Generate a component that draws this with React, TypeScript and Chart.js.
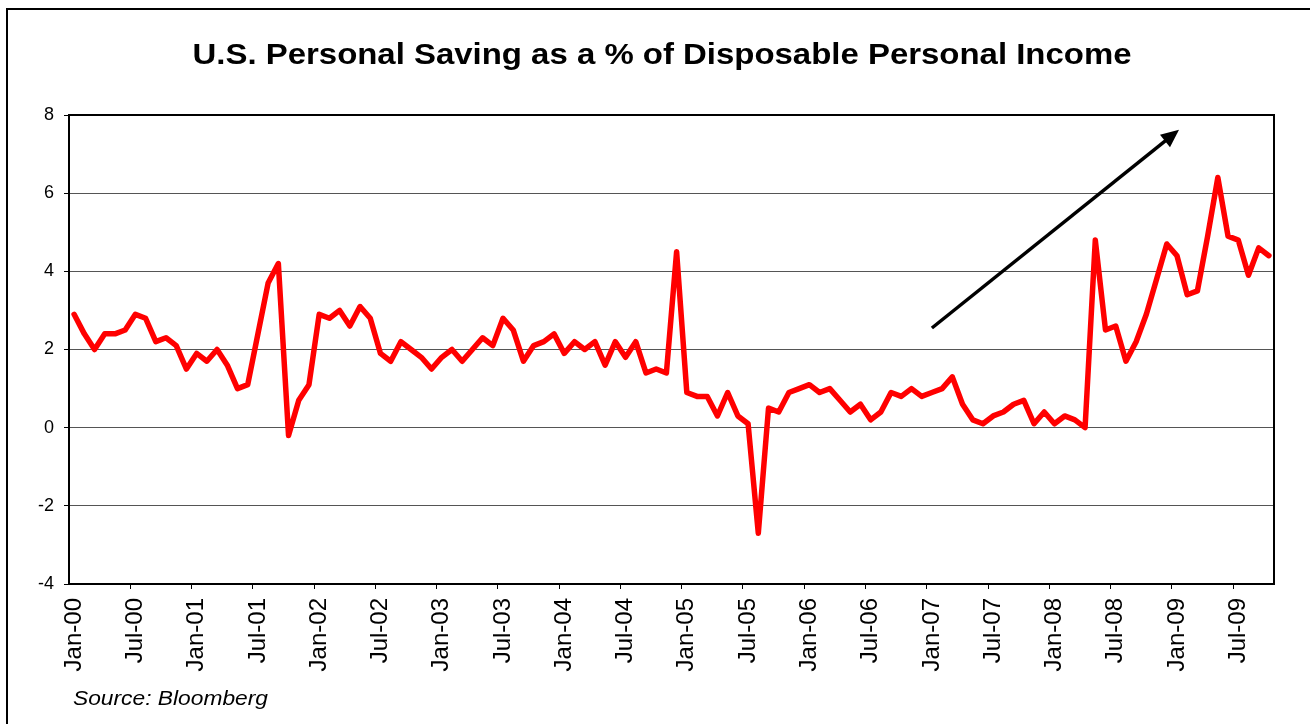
import React, { useEffect, useRef } from 'react';
import { Chart, registerables } from 'chart.js';

Chart.register(...registerables);

const TITLE = 'U.S. Personal Saving as a % of Disposable Personal Income';
const SOURCE = 'Source: Bloomberg';

const MONTH_NAMES = ['Jan', 'Feb', 'Mar', 'Apr', 'May', 'Jun', 'Jul', 'Aug', 'Sep', 'Oct', 'Nov', 'Dec'];
const YEARS = ['00', '01', '02', '03', '04', '05', '06', '07', '08', '09'];

// Monthly personal saving rate (%), Jan-00 .. Oct-09
const RATE_2000 = [2.9, 2.4, 2.0, 2.4, 2.4, 2.5, 2.9, 2.8, 2.2, 2.3, 2.1, 1.5];
const RATE_2001 = [1.9, 1.7, 2.0, 1.6, 1.0, 1.1, 2.4, 3.7, 4.2, -0.2, 0.7, 1.1];
const RATE_2002 = [2.9, 2.8, 3.0, 2.6, 3.1, 2.8, 1.9, 1.7, 2.2, 2.0, 1.8, 1.5];
const RATE_2003 = [1.8, 2.0, 1.7, 2.0, 2.3, 2.1, 2.8, 2.5, 1.7, 2.1, 2.2, 2.4];
const RATE_2004 = [1.9, 2.2, 2.0, 2.2, 1.6, 2.2, 1.8, 2.2, 1.4, 1.5, 1.4, 4.5];
const RATE_2005 = [0.9, 0.8, 0.8, 0.3, 0.9, 0.3, 0.1, -2.7, 0.5, 0.4, 0.9, 1.0];
const RATE_2006 = [1.1, 0.9, 1.0, 0.7, 0.4, 0.6, 0.2, 0.4, 0.9, 0.8, 1.0, 0.8];
const RATE_2007 = [0.9, 1.0, 1.3, 0.6, 0.2, 0.1, 0.3, 0.4, 0.6, 0.7, 0.1, 0.4];
const RATE_2008 = [0.1, 0.3, 0.2, 0.0, 4.8, 2.5, 2.6, 1.7, 2.2, 2.9, 3.8, 4.7];
const RATE_2009 = [4.4, 3.4, 3.5, 4.9, 6.4, 4.9, 4.8, 3.9, 4.6, 4.4];

const SAVING_RATE = [
  ...RATE_2000, ...RATE_2001, ...RATE_2002, ...RATE_2003, ...RATE_2004,
  ...RATE_2005, ...RATE_2006, ...RATE_2007, ...RATE_2008, ...RATE_2009,
];

const CATEGORIES: string[] = [];
YEARS.forEach((yy) => MONTH_NAMES.forEach((m) => CATEGORIES.push(`${m}-${yy}`)));
const LABELS = CATEGORIES.slice(0, SAVING_RATE.length);

const LABEL_EVERY = 6;
const Y_MIN = -4;
const Y_MAX = 8;
const Y_STEP = 2;

// Trend arrow annotation in data coordinates: [month index, value]
const ARROW_FROM = [84.0, 2.55];
const ARROW_TO = [108.2, 7.62];

const FONT = '"Liberation Sans", Arial, Helvetica, sans-serif';

const decorPlugin = {
  id: 'decor',
  afterDraw(chart: any) {
    const { ctx, chartArea: a, scales } = chart;
    const xs = scales.x;
    const ys = scales.y;
    ctx.save();
    ctx.strokeStyle = '#000';
    ctx.lineWidth = 2;
    // plot frame (top & right)
    ctx.beginPath();
    ctx.moveTo(a.left, a.top);
    ctx.lineTo(a.right, a.top);
    ctx.lineTo(a.right, a.bottom);
    ctx.stroke();
    // outer chart border
    ctx.strokeRect(7, 9, 1400, 800);

    // arrow
    const x1 = xs.getPixelForValue(ARROW_FROM[0]);
    const y1 = ys.getPixelForValue(ARROW_FROM[1]);
    const x2 = xs.getPixelForValue(ARROW_TO[0]);
    const y2 = ys.getPixelForValue(ARROW_TO[1]);
    const ang = Math.atan2(y2 - y1, x2 - x1);
    const headLen = 18;
    const headHalf = 8;
    ctx.lineWidth = 3.5;
    ctx.beginPath();
    ctx.moveTo(x1, y1);
    ctx.lineTo(x2 - Math.cos(ang) * headLen * 0.8, y2 - Math.sin(ang) * headLen * 0.8);
    ctx.stroke();
    ctx.fillStyle = '#000';
    ctx.beginPath();
    ctx.moveTo(x2, y2);
    const bx = x2 - Math.cos(ang) * headLen;
    const by = y2 - Math.sin(ang) * headLen;
    ctx.lineTo(bx + Math.sin(ang) * headHalf, by - Math.cos(ang) * headHalf);
    ctx.lineTo(bx - Math.sin(ang) * headHalf, by + Math.cos(ang) * headHalf);
    ctx.closePath();
    ctx.fill();

    // title
    ctx.fillStyle = '#000';
    ctx.font = `bold 29px ${FONT}`;
    ctx.textAlign = 'center';
    ctx.textBaseline = 'alphabetic';
    const tw = ctx.measureText(TITLE).width;
    ctx.save();
    ctx.translate(662, 64);
    ctx.scale(939 / tw, 1);
    ctx.fillText(TITLE, 0, 0);
    ctx.restore();

    // source
    ctx.font = `italic 20px ${FONT}`;
    ctx.textAlign = 'left';
    const sw = ctx.measureText(SOURCE).width;
    ctx.save();
    ctx.translate(73, 705);
    ctx.scale(195 / sw, 1);
    ctx.fillText(SOURCE, 0, 0);
    ctx.restore();

    ctx.restore();
  },
};

export default function App() {
  const canvasRef = useRef<HTMLCanvasElement | null>(null);

  useEffect(() => {
    document.body.style.margin = '0';
    document.body.style.background = '#fff';
    const canvas = canvasRef.current;
    if (!canvas) return;
    const chart = new Chart(canvas, {
      type: 'line',
      data: {
        labels: LABELS,
        datasets: [
          {
            label: 'Personal saving rate',
            data: SAVING_RATE,
            borderColor: '#ff0000',
            backgroundColor: '#ff0000',
            borderWidth: 5.5,
            pointRadius: 0,
            pointHoverRadius: 0,
            tension: 0,
            borderJoinStyle: 'round',
            borderCapStyle: 'round',
            fill: false,
          },
        ],
      },
      options: {
        animation: false,
        responsive: false,
        maintainAspectRatio: false,
        events: [],
        layout: { padding: { left: 20, right: 36, top: 115, bottom: 0 } },
        plugins: {
          legend: { display: false },
          title: { display: false },
          tooltip: { enabled: false },
        },
        scales: {
          x: {
            type: 'category',
            offset: true,
            afterFit: (scale: any) => {
              scale.height = 140;
            },
            border: { display: true, color: '#000', width: 2 },
            grid: {
              offset: true,
              drawOnChartArea: false,
              drawTicks: true,
              tickLength: 5,
              lineWidth: 1,
              color: (ctx: any) => (ctx.index % LABEL_EVERY === 0 && ctx.index > 0 ? '#000' : 'rgba(0,0,0,0)'),
            },
            ticks: {
              autoSkip: false,
              maxRotation: 90,
              minRotation: 90,
              padding: 9,
              color: '#000',
              font: { family: FONT, size: 24 },
              callback: (_v: any, i: number) => (i % LABEL_EVERY === 0 ? LABELS[i] : ''),
            },
          },
          y: {
            min: Y_MIN,
            max: Y_MAX,
            afterFit: (scale: any) => {
              scale.width = 49;
            },
            border: { display: true, color: '#000', width: 2 },
            grid: {
              color: '#555',
              lineWidth: 1,
              drawTicks: true,
              tickLength: 5,
              tickColor: '#000',
            },
            ticks: {
              stepSize: Y_STEP,
              padding: 10,
              color: '#000',
              font: { family: FONT, size: 18 },
            },
          },
        },
      },
      plugins: [decorPlugin],
    });
    return () => chart.destroy();
  }, []);

  return <canvas ref={canvasRef} width={1310} height={724} style={{ display: 'block' }} />;
}
